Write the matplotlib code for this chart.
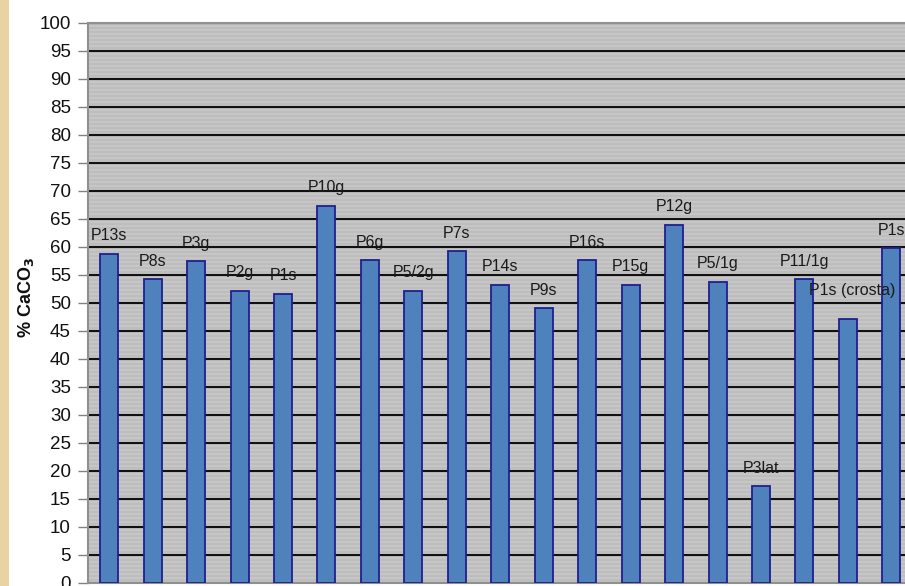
import matplotlib
matplotlib.use("Agg")
import matplotlib.pyplot as plt
from matplotlib.patches import Rectangle
import numpy as np

plt.rcParams['font.family'] = ['Liberation Sans', 'DejaVu Sans']

samples = ["P13s", "P8s", "P3g", "P2g", "P1s", "P10g", "P6g", "P5/2g", "P7s",
           "P14s", "P9s", "P16s", "P15g", "P12g", "P5/1g", "P3lat", "P11/1g",
           "P1s (crosta)", "P1s"]
caco3 = [58.7, 54.2, 57.4, 52.1, 51.6, 67.3, 57.6, 52.1, 59.2,
         53.2, 49.0, 57.6, 53.2, 63.9, 53.7, 17.2, 54.2, 47.1, 59.7]
y_ticks = list(range(0, 101, 5))

W, H = 905, 586
fig = plt.figure(figsize=(W / 100, H / 100), dpi=100)
fig.patch.set_facecolor("white")

# beige strip along the left border
fig.add_artist(Rectangle((0, 0), 9 / W, 1, transform=fig.transFigure,
                         facecolor="#e8d4a2", edgecolor="none", zorder=0))

left, right = 87.5, 87.5 + 19 * 43.45
top, bottom = 22.7, 582.7
ax = fig.add_axes([left / W, 1 - bottom / H, (right - left) / W, (bottom - top) / H])
ax.set_facecolor("#c0c0c0")

# striped plot-area fill
stripes = np.tile([[0.0], [1.0]], (140, 1))
ax.imshow(stripes, cmap=matplotlib.colors.ListedColormap(["#bdbdbd", "#c6c6c6"]),
          extent=(0, 1, 0, 1), transform=ax.transAxes, aspect="auto",
          interpolation="nearest", zorder=0)

x = np.arange(len(samples))
ax.bar(x, caco3, width=0.414, color="#4f81bd", edgecolor="#1f1f8f",
       linewidth=1.3, zorder=3)

for i, (name, v) in enumerate(zip(samples, caco3)):
    dy = 20.5 if name == "P1s (crosta)" else 13
    dx = 3 if name == "P1s (crosta)" else 0
    ax.annotate(name, (i, v), xytext=(dx, dy), textcoords="offset points",
                ha="center", va="center", fontsize=11.5, color="#1a1a1a",
                zorder=4, annotation_clip=False)

ax.set_xlim(-0.5, len(samples) - 0.5)
ax.set_ylim(0, 100)
ax.set_yticks(y_ticks)
ax.set_yticklabels([str(t) for t in y_ticks])
ax.tick_params(axis="y", direction="out", length=7, width=1, color="#808080",
               labelsize=13.5, pad=5, labelcolor="#111111")
ax.tick_params(axis="x", bottom=False, labelbottom=False)
ax.yaxis.grid(True, color="#111111", linewidth=1.5, zorder=1)
ax.set_axisbelow(True)

for side in ["left", "bottom", "top"]:
    ax.spines[side].set_color("#909090")
    ax.spines[side].set_linewidth(1.5)
ax.spines["right"].set_visible(False)

fig.text(26 / W, 1 - 298 / H, r"% CaCO$_\mathbf{3}$", rotation=90, ha="center",
         va="center", fontsize=13, fontweight="bold", color="#111111")

fig.savefig("out.png", dpi=100)
